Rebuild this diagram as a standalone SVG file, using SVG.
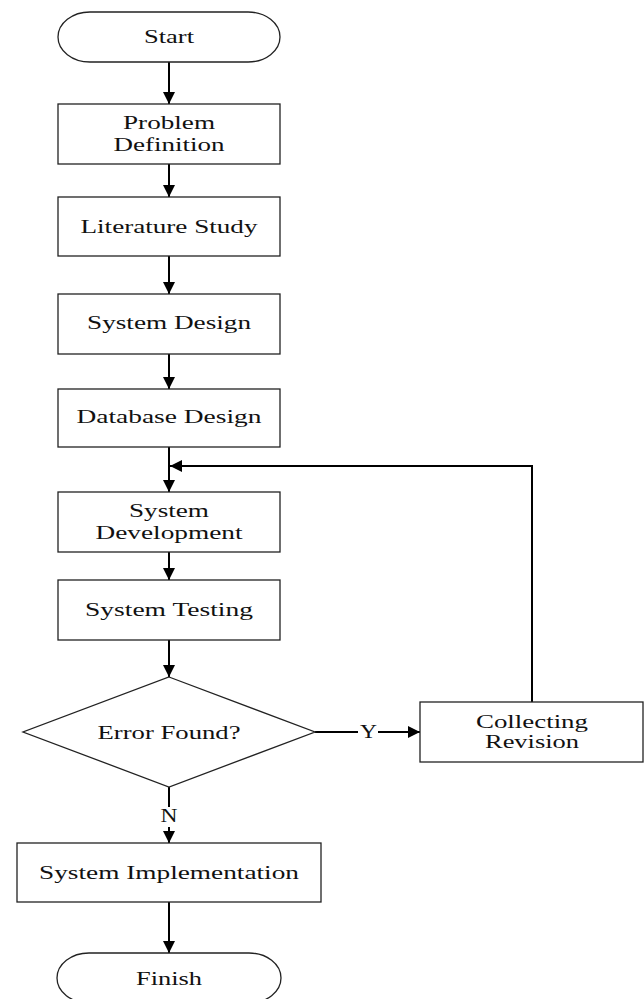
<svg xmlns="http://www.w3.org/2000/svg" width="644" height="999" viewBox="0 0 644 999">
<defs>
<marker id="ah" viewBox="0 0 10 10" refX="10" refY="5" markerWidth="12" markerHeight="12" markerUnits="userSpaceOnUse" orient="auto">
<path d="M0,0 L10,5 L0,10 z" fill="#000"/>
</marker>
</defs>
<style>
.n{fill:#fff;stroke:#222;stroke-width:1.3}
.t{font-family:"Liberation Serif","Times New Roman",serif;font-size:19px;fill:#111;text-anchor:middle}
.c{fill:none;stroke:#000;stroke-width:2}
.a{marker-end:url(#ah)}
</style>
<rect width="644" height="999" fill="#fff"/>
<g id="connectors">
<line class="c a" x1="169" y1="62" x2="169" y2="104"/>
<line class="c a" x1="169" y1="164" x2="169" y2="197"/>
<line class="c a" x1="169" y1="256" x2="169" y2="294"/>
<line class="c a" x1="169" y1="354" x2="169" y2="389"/>
<line class="c a" x1="169" y1="447" x2="169" y2="492"/>
<line class="c a" x1="169" y1="552" x2="169" y2="580"/>
<line class="c a" x1="169" y1="640" x2="169" y2="677"/>
<line class="c" x1="169" y1="787" x2="169" y2="807"/>
<line class="c a" x1="169" y1="827" x2="169" y2="843"/>
<text class="t" x="169" y="822" textLength="17" lengthAdjust="spacingAndGlyphs">N</text>
<line class="c a" x1="169" y1="902" x2="169" y2="953"/>
<line class="c" x1="315" y1="732" x2="358" y2="732"/>
<line class="c a" x1="378" y1="732" x2="420" y2="732"/>
<text class="t" x="368.5" y="738" textLength="17" lengthAdjust="spacingAndGlyphs">Y</text>
<polyline class="c a" points="532,702 532,466 170,466"/>
</g>
<g id="start">
<rect class="n" x="58" y="12" width="222" height="50" rx="32" ry="25"/>
<text class="t" x="169" y="43" textLength="50" lengthAdjust="spacingAndGlyphs">Start</text>
</g>
<g id="problem-definition">
<rect class="n" x="58" y="104" width="222" height="60"/>
<text class="t" x="169" y="129" textLength="92" lengthAdjust="spacingAndGlyphs">Problem</text>
<text class="t" x="169" y="151" textLength="111" lengthAdjust="spacingAndGlyphs">Definition</text>
</g>
<g id="literature-study">
<rect class="n" x="58" y="197" width="222" height="59"/>
<text class="t" x="169" y="233" textLength="177" lengthAdjust="spacingAndGlyphs">Literature Study</text>
</g>
<g id="system-design">
<rect class="n" x="58" y="294" width="222" height="60"/>
<text class="t" x="169" y="329" textLength="164" lengthAdjust="spacingAndGlyphs">System Design</text>
</g>
<g id="database-design">
<rect class="n" x="58" y="389" width="222" height="58"/>
<text class="t" x="169" y="423" textLength="185" lengthAdjust="spacingAndGlyphs">Database Design</text>
</g>
<g id="system-development">
<rect class="n" x="58" y="492" width="222" height="60"/>
<text class="t" x="169" y="517" textLength="80" lengthAdjust="spacingAndGlyphs">System</text>
<text class="t" x="169" y="539" textLength="147" lengthAdjust="spacingAndGlyphs">Development</text>
</g>
<g id="system-testing">
<rect class="n" x="58" y="580" width="222" height="60"/>
<text class="t" x="169" y="616" textLength="168" lengthAdjust="spacingAndGlyphs">System Testing</text>
</g>
<g id="error-found">
<polygon class="n" points="169,677 315,732 169,787 23,732"/>
<text class="t" x="169" y="739" textLength="143" lengthAdjust="spacingAndGlyphs">Error Found?</text>
</g>
<g id="collecting-revision">
<rect class="n" x="420" y="702" width="223" height="60"/>
<text class="t" x="532" y="728" textLength="112" lengthAdjust="spacingAndGlyphs">Collecting</text>
<text class="t" x="532" y="748" textLength="94" lengthAdjust="spacingAndGlyphs">Revision</text>
</g>
<g id="system-implementation">
<rect class="n" x="17" y="843" width="304" height="59"/>
<text class="t" x="169" y="879" textLength="260" lengthAdjust="spacingAndGlyphs">System Implementation</text>
</g>
<g id="finish">
<rect class="n" x="57" y="953" width="224" height="50" rx="32" ry="25"/>
<text class="t" x="169" y="985" textLength="66" lengthAdjust="spacingAndGlyphs">Finish</text>
</g>
</svg>
